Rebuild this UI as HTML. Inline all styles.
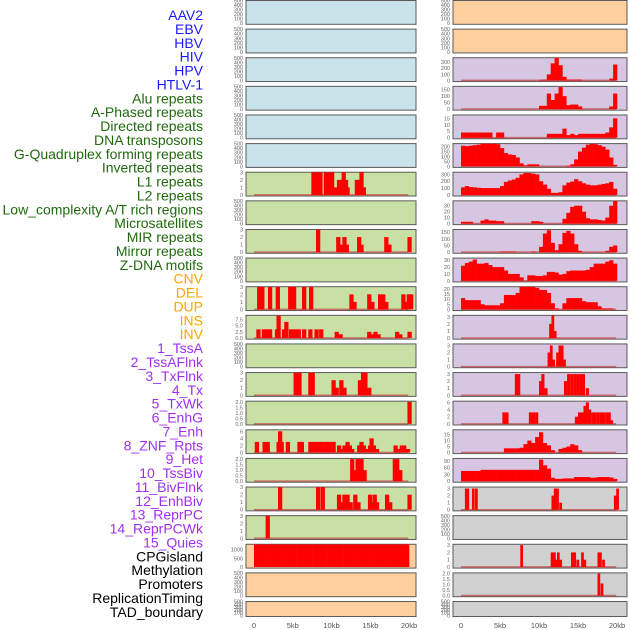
<!DOCTYPE html>
<html><head><meta charset="utf-8"><style>
html,body{margin:0;padding:0;background:#fff;}
svg{display:block;font-family:"Liberation Sans",sans-serif;}
</style></head><body>
<svg id="chart" width="630" height="630" viewBox="0 0 630 630" xmlns="http://www.w3.org/2000/svg">
<g id="labels"></g>
<g id="panels"></g>
<g id="xaxes"></g>
</svg>
<script>
// ---- data ----
const trackLabels = ["AAV2","EBV","HBV","HIV","HPV","HTLV-1","Alu repeats","A-Phased repeats","Directed repeats","DNA transposons","G-Quadruplex forming repeats","Inverted repeats","L1 repeats","L2 repeats","Low_complexity A/T rich regions","Microsatellites","MIR repeats","Mirror repeats","Z-DNA motifs","CNV","DEL","DUP","INS","INV","1_TssA","2_TssAFlnk","3_TxFlnk","4_Tx","5_TxWk","6_EnhG","7_Enh","8_ZNF_Rpts","9_Het","10_TssBiv","11_BivFlnk","12_EnhBiv","13_ReprPC","14_ReprPCWk","15_Quies","CPGisland","Methylation","Promoters","ReplicationTiming","TAD_boundary"];
const labelGroups = ["v","v","v","v","v","v","r","r","r","r","r","r","r","r","r","r","r","r","r","c","c","c","c","c","s","s","s","s","s","s","s","s","s","s","s","s","s","s","s","o","o","o","o","o"];
const xTickLabels = ["0","5kb","10kb","15kb","20kb"];
const xTickValues = [0,5,10,15,20];

// sparse tracks: bar start positions (kb) and values
const lL1Pos = [7.4,7.8,8.3,9.0,9.4,9.8,10.2,10.7,11.1,11.3,11.6,11.8,13.0,13.3,13.6,13.9];
const lL1Val = [3,3,3,3,3,3,1,2,2,3,2,1,2,2,3,1];
const lLowPos = [8.0,10.6,11.0,11.4,11.7,13.3,13.6,16.8,17.2,19.8];
const lLowVal = [3,2,1,2,1,2,1,2,1,2];
const lMirPos = [0.4,0.8,1.8,2.8,4.4,4.9,6.2,7.1,12.3,12.7,14.6,15.0,16.0,16.3,16.4,16.8,19.0,19.4,19.7,20.0];
const lMirVal = [3,3,3,3,3,3,3,3,2,1,2,1,2,1,2,1,2,1,2,2];
const lMirrorPos = [0.3,1.0,1.4,1.8,2.7,2.9,3.6,3.9,4.5,5.0,5.5,6.2,7.0,7.8,8.4,10.4,10.9,14.6,15.0,15.4,15.8,18.2,18.6,19.8];
const lMirrorVal = [3.5,3.5,3.5,3.5,3.5,9,3.5,6.5,3.5,3.5,3.5,3.5,3.5,3.5,3.5,2.5,1.5,2.5,1.5,2.5,1.5,2.5,1.5,2.5];
const lTssAFlnkPos = [5.1,5.6,7.0,7.3,10.0,10.4,11.0,11.4,13.4,13.8,14.1,14.6];
const lTssAFlnkVal = [3,3,3,3,2,1,2,1,2,3,3,1];
const lTxFlnkPos = [19.8];
const lTxFlnkVal = [2];
const lTxPos = [0.1,1.1,1.5,2.9,3.3,3.1,4.1,5.6,5.9,7.0,7.4,7.8,8.2,8.5,9.0,9.3,9.7,10.0,10.7,11.0,11.4,11.8,12.1,12.4,13.3,13.6,13.9,14.2,14.7,14.9,15.2,15.6,18.0,18.5,18.8,19.1,19.6];
const lTxVal = [3,3,3,3,3,6,3,3,3,3,3,3,3,3,3,3,3,3,2,1,2,3,2,1,2,3,2,1,2,4,2,1,2,1,2,2,1];
const lTxWkPos = [12.4,12.9,13.1,13.6,14.0,17.9,18.2,18.6];
const lTxWkVal = [2,1,2,2,1,2,2,1];
const lEnhGPos = [3.1,8.0,8.6,10.7,11.0,11.4,11.7,11.8,12.2,12.8,13.2,14.7,15.0,15.3,15.6,16.9,17.3,19.8];
const lEnhGVal = [3,3,3,2,1,2,1,2,1,2,1,2,1,2,1,2,1,2];
const lEnhPos = [1.5];
const lEnhVal = [3];
const lCpgBins = [1310,1310,1310,1310,1310,1310,1310,1310,1310,1310,1310,1310,1310,1310,1310,1310,1310,1310,1310,1310,1310,1310,1310,1310,1310,1310,1310,1310,1310,1310,1310,1310,1310,1310,1310,1310,1310,1310,1310,1310];

// dense tracks: 40 bins of 0.5kb
const rHivBins = [0,0,0,0,0,0,0,0,0,0,0,0,0,0,0,0,0,0,0,0,10,15,100,280,370,250,60,15,15,15,15,0,0,0,0,0,0,0,30,260];
const rAluBins = [0,0,0,0,0,0,0,0,0,0,0,0,0,0,0,0,0,0,0,0,25,25,120,70,120,170,100,30,35,35,20,0,0,0,0,0,0,0,20,120];
const rDirectedBins = [4,4,4,4,4,4,4,4,0,4,4,0,0,0,0,0,0,0,0,0,0,0,3,3,3,3,7,2,3,2,3,3,3,3,3,3,3,4,8,15];
const rGquadBins = [210,205,210,215,220,230,230,230,230,225,185,135,120,115,90,30,10,20,20,20,0,0,0,0,0,0,0,5,20,70,150,190,220,230,225,215,200,170,90,15];
const rInvertedBins = [110,130,115,110,105,100,100,100,100,100,130,190,210,225,250,300,320,320,310,300,200,150,90,30,30,40,140,180,195,230,200,170,150,140,140,150,160,170,190,90];
const rL2Bins = [3,3,3,0,0,5,7,5,5,4,4,0,0,0,0,0,0,0,4,4,3,0,0,0,0,0,8,18,28,30,30,20,9,7,7,6,5,10,30,38];
const rMirBins = [0,0,0,0,0,0,0,0,0,0,5,5,5,5,0,0,0,0,5,0,40,140,165,70,15,60,145,160,140,60,10,0,0,0,0,0,0,10,40,50];
const rMirrorBins = [22,26,28,31,25,25,26,23,20,20,20,15,10,10,10,5,0,8,8,7,7,8,13,13,12,9,10,14,15,15,15,15,16,20,25,25,25,28,30,25];
const rZdnaBins = [11,9,9,9,9,5,4,4,4,4,6,14,14,14,16,22,22,22,22,21,19,19,16,6,1,0,6,11,11,11,11,8,7,7,7,3,1,1,1,0];
const rTxFlnkBins = [0,0,0,0,0,0,0,0,0,0,0,3.5,3.5,3.5,3.5,4,7,10,8,13,17,8,6,2,0,3,4,5,7,6,2,0,0,0,0,0,0,0,0,0];
const rTxWkBins = [45,45,45,45,45,50,50,50,50,50,50,50,50,50,50,50,50,50,50,50,95,70,55,15,10,10,12,12,12,18,18,18,18,15,16,18,18,18,16,10];
const rInsPos = [11.3,11.6,11.9];
const rInsVal = [2,3.2,1];
const rInvPos = [11.1,11.4,11.7,12.2,12.5,12.8,13.1];
const rInvVal = [2,3,1,2,3,3,1];
const rTssAPos = [6.9,7.2,10.0,10.3,10.7,13.2,13.6,14.0,14.4,14.8,15.2,15.5,16.0];
const rTssAVal = [3,3,2,3,1,2,3,3,3,3,3,3,1];
const rTssAFlnkPos = [5.3,5.7,8.7,9.1,9.5,14.6,15.0,15.3,15.7,16.0,16.3,16.7,17.0,17.4,17.8,18.1,18.5,18.8,19.1];
const rTssAFlnkVal = [3.2,3.2,3.2,3.2,3.2,2,3.2,3.2,5,6,4,3.2,3.2,3.2,3.2,3.2,3.2,3.2,1];
const rBivPos = [0.5,0.7,1.4,1.8,11.6,11.9,12.2,12.6,19.6,19.9];
const rBivVal = [3,3,3,3,2,3,3,1,2,3];
const rCpgPos = [7.6,11.5,11.8,12.1,12.3,12.6,14.1,14.4,14.8,15.4,15.7,17.5,17.7,18.1];
const rCpgVal = [3,2,2,1,2,1,2,2,1,2,1,2,2,1];
const rMethPos = [17.5,17.9];
const rMethVal = [2,1.1];

const t500 = [0,100,200,300,400,500];
const t3 = [0,1,2,3];
const t2 = [0,0.5,1,1.5,2];
const t2Lab = ["0.0","0.5","1.0","1.5","2.0"];
const tMirror = [0,2.5,5,7.5];
const tMirrorLab = ["0.0","2.5","5.0","7.5"];

// ---- layout ----
const BG = {b:"#c9e3eb", g:"#c8e0a4", o:"#ffd09e", p:"#d6c6e2", k:"#d1d1d1"};
const LABCOL = {v:"#1a1aff", r:"#1f6b0c", c:"#ffa500", s:"#a030f0", o:"#000"};
const NS = "http://www.w3.org/2000/svg";
function mk(tag, attrs, parent){const e=document.createElementNS(NS,tag);for(const k in attrs)e.setAttribute(k,attrs[k]);parent.appendChild(e);return e;}

const cols = {
  L:{x0:246,x1:416,kx:254,ks:7.75},
  R:{x0:453,x1:627,kx:461,ks:7.8}
};
const specs = [];
for(let r=0;r<6;r++) specs.push({c:"L",r,bg:"b",n:"empty"});
specs.push({c:"L",r:6,bg:"g",n:"l1",pos:lL1Pos,val:lL1Val,t:t3,max:3});
specs.push({c:"L",r:7,bg:"g",n:"empty"});
specs.push({c:"L",r:8,bg:"g",n:"low-complexity",pos:lLowPos,val:lLowVal,t:t3,max:3});
specs.push({c:"L",r:9,bg:"g",n:"empty"});
specs.push({c:"L",r:10,bg:"g",n:"mir",pos:lMirPos,val:lMirVal,t:t3,max:3});
specs.push({c:"L",r:11,bg:"g",n:"mirror",pos:lMirrorPos,val:lMirrorVal,t:tMirror,tl:tMirrorLab,max:9.1});
specs.push({c:"L",r:12,bg:"g",n:"empty"});
specs.push({c:"L",r:13,bg:"g",n:"tssaflnk",pos:lTssAFlnkPos,val:lTssAFlnkVal,t:t3,max:3});
specs.push({c:"L",r:14,bg:"g",n:"txflnk",pos:lTxFlnkPos,val:lTxFlnkVal,t:t2,tl:t2Lab,max:2.05});
specs.push({c:"L",r:15,bg:"g",n:"tx",pos:lTxPos,val:lTxVal,t:[0,2,4,6],max:6.4});
specs.push({c:"L",r:16,bg:"g",n:"txwk",pos:lTxWkPos,val:lTxWkVal,t:t2,tl:t2Lab,max:2.05});
specs.push({c:"L",r:17,bg:"g",n:"enhg",pos:lEnhGPos,val:lEnhGVal,t:t3,max:3});
specs.push({c:"L",r:18,bg:"g",n:"enh",pos:lEnhPos,val:lEnhVal,t:t3,max:3});
specs.push({c:"L",r:19,bg:"o",n:"cpg",bins:lCpgBins,t:[0,500,1000],max:1310,noBase:true});
specs.push({c:"L",r:20,bg:"o",n:"empty"});
specs.push({c:"L",r:21,bg:"o",n:"empty"});
specs.push({c:"R",r:0,bg:"o",n:"empty"});
specs.push({c:"R",r:1,bg:"o",n:"empty"});
specs.push({c:"R",r:2,bg:"p",n:"hiv",bins:rHivBins,t:[0,100,200,300],max:370});
specs.push({c:"R",r:3,bg:"p",n:"alu",bins:rAluBins,t:[0,50,100,150],max:175});
specs.push({c:"R",r:4,bg:"p",n:"directed",bins:rDirectedBins,t:[0,5,10,15],max:17.5});
specs.push({c:"R",r:5,bg:"p",n:"gquad",bins:rGquadBins,t:[0,50,100,150,200],max:230});
specs.push({c:"R",r:6,bg:"p",n:"inverted",bins:rInvertedBins,t:[0,100,200,300],max:330});
specs.push({c:"R",r:7,bg:"p",n:"l2",bins:rL2Bins,t:[0,10,20,30],max:38});
specs.push({c:"R",r:8,bg:"p",n:"mir",bins:rMirBins,t:[0,50,100,150],max:170});
specs.push({c:"R",r:9,bg:"p",n:"mirror",bins:rMirrorBins,t:[0,10,20,30],max:33});
specs.push({c:"R",r:10,bg:"p",n:"zdna",bins:rZdnaBins,t:[0,5,10,15,20],max:22});
specs.push({c:"R",r:11,bg:"p",n:"ins",pos:rInsPos,val:rInsVal,t:t3,max:3.2,w:0.35});
specs.push({c:"R",r:12,bg:"p",n:"inv",pos:rInvPos,val:rInvVal,t:t3,max:3.2,w:0.35});
specs.push({c:"R",r:13,bg:"p",n:"tssa",pos:rTssAPos,val:rTssAVal,t:t3,max:3.2,w:0.4});
specs.push({c:"R",r:14,bg:"p",n:"tssaflnk",pos:rTssAFlnkPos,val:rTssAFlnkVal,t:[0,2,4,6],max:6.3,w:0.4});
specs.push({c:"R",r:15,bg:"p",n:"txflnk",bins:rTxFlnkBins,t:[0,5,10,15],max:19});
specs.push({c:"R",r:16,bg:"p",n:"txwk",bins:rTxWkBins,t:[0,30,60,90],max:100});
specs.push({c:"R",r:17,bg:"k",n:"bivflnk",pos:rBivPos,val:rBivVal,t:t3,max:3.2,w:0.35});
specs.push({c:"R",r:18,bg:"k",n:"empty"});
specs.push({c:"R",r:19,bg:"k",n:"cpg",pos:rCpgPos,val:rCpgVal,t:t3,max:3.1,w:0.35});
specs.push({c:"R",r:20,bg:"k",n:"methylation",pos:rMethPos,val:rMethVal,t:t2,tl:t2Lab,max:2.05,w:0.35});
specs.push({c:"R",r:21,bg:"k",n:"empty"});

const gP = document.getElementById("panels");
const gL = document.getElementById("labels");
const gX = document.getElementById("xaxes");

trackLabels.forEach((t,j)=>{
  const e = mk("text",{x:203,y:(20+j*13.88).toFixed(1),"text-anchor":"end","font-size":"14",fill:LABCOL[labelGroups[j]]},gL);
  e.textContent = t;
  
  
});

specs.forEach(s=>{
  const col = cols[s.c];
  const top = s.r*28.62;
  const h = s.r===21 ? 16 : 24.8;
  const y0 = top + h - 1.6, yT = top + 0.6;
  const g = mk("g",{},gP);
  
  
  const bg = mk("rect",{x:col.x0,y:top+0.5,width:col.x1-col.x0,height:h-1,fill:BG[s.bg],stroke:"#5a5a5a","stroke-width":"1"},g);
  
  
  const ticks = s.t || t500;
  const max = s.max || 500;
  const ys = v => y0 - (v/max)*(y0-yT);
  const xs = kb => col.kx + kb*col.ks;
  ticks.forEach((tv,i)=>{
    const lab = s.tl ? s.tl[i] : String(tv);
    const e = mk("text",{x:col.x0-3,y:(ys(tv)+2).toFixed(1),"text-anchor":"end","font-size":"5.5",fill:"#666"},g);
    e.textContent = lab;
    
    
  });
  if(s.n==="empty") return;
  if(!s.noBase){
    const bl = mk("line",{x1:xs(0),x2:xs(19.9),y1:y0,y2:y0,stroke:"#c05050","stroke-width":"1.6","stroke-opacity":"0.8"},g);
    
    
  }
  if(s.bins){
    s.bins.forEach((v,i)=>{
      if(v<=0) return;
      const x = xs(i*0.5), w = xs((i+1)*0.5)-x;
      const y = Math.max(yT, ys(v));
      const b = mk("rect",{x:x.toFixed(2),y:y.toFixed(2),width:(w+0.3).toFixed(2),height:(y0-y).toFixed(2),fill:"#ff0000"},g);
      
      
    });
  } else if(s.pos){
    const bw = s.w || 0.55;
    s.pos.forEach((p,i)=>{
      const v = s.val[i];
      const x = xs(p), w = bw*col.ks;
      const y = Math.max(yT, ys(v));
      const b = mk("rect",{x:x.toFixed(2),y:y.toFixed(2),width:w.toFixed(2),height:(y0-y).toFixed(2),fill:"#ff0000"},g);
      
      
    });
  }
});

["L","R"].forEach(c=>{
  const col = cols[c];
  xTickValues.forEach((v,i)=>{
    const e = mk("text",{x:(col.kx+v*col.ks).toFixed(1),y:"628","text-anchor":"middle","font-size":"7.5",fill:"#555"},gX);
    e.textContent = xTickLabels[i];
    
    
  });
});
</script>
</body></html>
